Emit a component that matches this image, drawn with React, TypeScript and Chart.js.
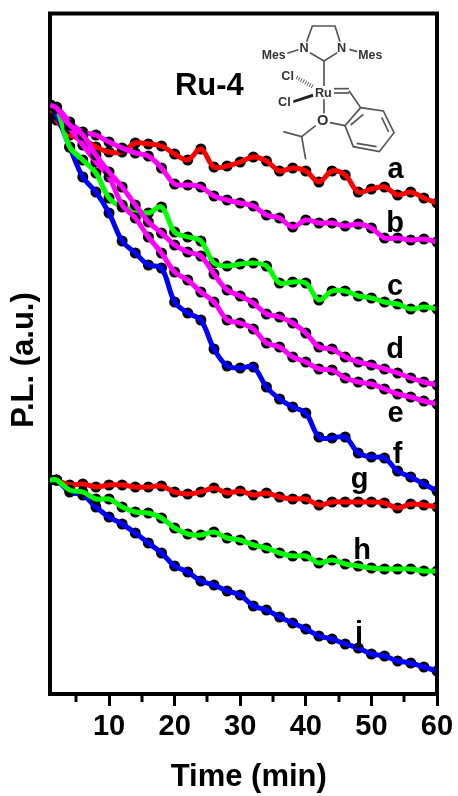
import React, { useEffect, useRef } from "react";
import { Chart, registerables } from "chart.js";

Chart.register(...registerables);

const FONT = '"Liberation Sans", Arial, sans-serif';

const time = [1, 2, 4, 6, 8, 10, 12, 14, 16, 18, 20, 22, 24, 26, 28, 30, 32, 34, 36, 38, 40, 42, 44, 46, 48, 50, 52, 54, 56, 58, 60];

const seriesA = [589, 574, 559, 555, 547, 542, 542, 551, 550, 548, 540, 534, 545, 527, 528, 532, 537, 533, 523, 526, 523, 512, 523, 519, 502, 505, 507, 499, 502, 496, 491];
const seriesB = [589, 587, 572, 562, 559, 552, 546, 541, 538, 526, 510, 509, 507, 498, 494, 491, 488, 479, 476, 467, 474, 471, 471, 468, 470, 466, 456, 456, 454, 455, 452];
const seriesC = [589, 586, 547, 534, 521, 496, 487, 484, 481, 487, 462, 457, 453, 431, 428, 430, 431, 428, 411, 412, 411, 394, 403, 403, 398, 396, 392, 390, 385, 387, 385];
const seriesD = [589, 586, 569, 559, 539, 522, 507, 489, 472, 461, 449, 442, 438, 420, 404, 398, 391, 380, 377, 371, 361, 347, 345, 337, 332, 329, 325, 321, 316, 312, 309];
const seriesE = [589, 586, 566, 549, 532, 517, 489, 476, 457, 441, 422, 414, 402, 392, 374, 371, 365, 351, 347, 337, 332, 325, 324, 316, 312, 310, 305, 300, 297, 293, 290];
const seriesF = [589, 579, 547, 517, 502, 481, 453, 441, 429, 426, 392, 381, 374, 345, 328, 326, 327, 307, 295, 287, 281, 257, 256, 257, 241, 237, 236, 223, 217, 210, 203];
const seriesG = [214, 214, 209, 210, 207, 209, 209, 207, 207, 208, 202, 200, 202, 206, 201, 203, 199, 201, 197, 195, 195, 189, 192, 192, 192, 192, 191, 186, 190, 189, 187];
const seriesH = [214, 214, 204, 202, 195, 195, 187, 182, 181, 176, 166, 160, 159, 162, 156, 154, 149, 146, 141, 138, 138, 131, 134, 130, 128, 126, 125, 125, 125, 123, 123];
const seriesJ = [214, 214, 202, 199, 187, 177, 170, 161, 151, 141, 128, 122, 113, 109, 103, 99, 88, 84, 77, 71, 65, 58, 55, 50, 46, 40, 38, 33, 31, 27, 23];

const RED = "#ff0000";
const GREEN = "#00ff00";
const BLUE = "#0000ff";
const MAGENTA = "#ff00ff";

// bottom-most first
const layers: [string, number[], string][] = [
  ["a", seriesA, RED],
  ["f", seriesF, BLUE],
  ["c", seriesC, GREEN],
  ["b", seriesB, MAGENTA],
  ["e", seriesE, MAGENTA],
  ["d", seriesD, MAGENTA],
  ["g", seriesG, RED],
  ["j", seriesJ, BLUE],
  ["h", seriesH, GREEN],
];

const xTicks = [5, 10, 15, 20, 25, 30, 35, 40, 45, 50, 55, 60];

const curveLabels: [string, number, number][] = [
  ["a", 53.7, 516],
  ["b", 53.6, 462],
  ["c", 53.6, 399],
  ["d", 53.6, 336],
  ["e", 53.7, 272],
  ["f", 54.0, 231],
  ["g", 48.2, 206],
  ["h", 48.6, 135],
  ["j", 48.1, 52],
];
const compoundLabel: [string, number, number] = ["Ru-4", 25.3, 599];
const xTitle: [string, number, number] = ["Time (min)", 31.3, -83];
const yTitle: [string, number, number] = ["P.L. (a.u.)", -2.9, 334];

const overlay = {
  id: "overlay",
  afterDatasetsDraw(chart: any) {
    const { ctx, chartArea: a, scales } = chart;
    const { x, y } = scales;
    ctx.save();
    ctx.strokeStyle = "#000";
    ctx.lineWidth = 4;
    ctx.lineCap = "square";
    ctx.beginPath();
    ctx.moveTo(a.left, a.top);
    ctx.lineTo(a.right, a.top);
    ctx.lineTo(a.right, a.bottom);
    ctx.stroke();
    ctx.lineWidth = 3;
    ctx.lineCap = "butt";
    xTicks.filter((t) => t % 10 !== 0).forEach((t) => {
      const px = Math.round(x.getPixelForValue(t));
      ctx.beginPath();
      ctx.moveTo(px, a.bottom);
      ctx.lineTo(px, a.bottom + 8);
      ctx.stroke();
    });
    ctx.fillStyle = "#000";
    ctx.textAlign = "center";
    ctx.textBaseline = "alphabetic";
    ctx.font = `bold 29px ${FONT}`;
    curveLabels.forEach(([s, t, v]) => ctx.fillText(s, x.getPixelForValue(t), y.getPixelForValue(v)));
    ctx.font = `bold 31px ${FONT}`;
    ctx.fillText(compoundLabel[0], x.getPixelForValue(compoundLabel[1]), y.getPixelForValue(compoundLabel[2]));
    ctx.textBaseline = "middle";
    ctx.fillText(xTitle[0], x.getPixelForValue(xTitle[1]), y.getPixelForValue(xTitle[2]));
    ctx.translate(x.getPixelForValue(yTitle[1]), y.getPixelForValue(yTitle[2]));
    ctx.rotate(-Math.PI / 2);
    ctx.fillText(yTitle[0], 0, 0);
    ctx.restore();
  },
};

function Molecule() {
  const stroke = "#555";
  const txt = { fill: "#333", fontFamily: FONT, fontWeight: 700, textAnchor: "middle" as const };
  const line = (pts: string, w = 5) => (
    <polyline points={pts} fill="none" stroke={stroke} strokeWidth={w} />
  );
  return (
    <svg
      viewBox="0 0 810 510"
      width={270}
      height={170}
      style={{ position: "absolute", left: 150, top: 0, pointerEvents: "none" }}
    >
      {line("470,125 487,78 555,78 570,125")}
      {line("480,158 522,183 562,158")}
      {line("412,160 445,149")}
      {line("598,148 622,155")}
      {line("522,183 522,258")}
      {line("552,266 597,266")}
      {line("552,279 597,279")}
      {line("597,272 632,323 700,333 732,398 688,455 610,440 585,377 632,323")}
      {line("640,343 602,375")}
      {line("695,352 716,396")}
      {line("620,430 680,440")}
      {line("522,298 522,340")}
      {line("540,368 585,377")}
      {line("497,377 455,410")}
      {line("400,395 455,410 467,478")}
      <line x1="440" y1="232" x2="492" y2="262" stroke={stroke} strokeWidth={12} strokeDasharray="2.5 5" />
      <polygon points="430,301 430,309 490,290 488,281" fill="#222" />
      <text x="371" y="176" fontSize="37" {...txt}>Mes</text>
      <text x="661" y="176" fontSize="37" {...txt}>Mes</text>
      <text x="462" y="156" fontSize="38" {...txt}>N</text>
      <text x="575" y="156" fontSize="38" {...txt}>N</text>
      <text x="413" y="240" fontSize="38" {...txt}>Cl</text>
      <text x="403" y="318" fontSize="38" {...txt}>Cl</text>
      <text x="520" y="292" fontSize="38" {...txt}>Ru</text>
      <text x="518" y="376" fontSize="44" {...txt}>O</text>
    </svg>
  );
}

export default function App() {
  const ref = useRef<HTMLCanvasElement>(null);
  useEffect(() => {
    const datasets: any[] = [];
    const n = layers.length;
    layers.forEach(([name, values, color], i) => {
      const points = values.map((v, k) => ({ x: time[k], y: v }));
      datasets.push({
        label: name + " points",
        data: points,
        showLine: false,
        pointRadius: 5.5,
        pointBackgroundColor: "#000",
        pointBorderWidth: 0,
        order: 2 * (n - i) + 1,
      });
      datasets.push({
        label: name,
        data: points,
        showLine: true,
        borderColor: color,
        borderWidth: 5,
        pointRadius: 0,
        tension: 0.35,
        order: 2 * (n - i),
      });
    });
    const chart = new Chart(ref.current!, {
      type: "scatter",
      data: { datasets },
      plugins: [overlay],
      options: {
        animation: false,
        responsive: false,
        devicePixelRatio: 1,
        layout: { padding: { top: 13.5, right: 21, left: 0, bottom: 0 } },
        plugins: { legend: { display: false }, tooltip: { enabled: false } },
        scales: {
          x: {
            type: "linear",
            min: 1,
            max: 60,
            afterBuildTicks: (s: any) => {
              s.ticks = xTicks.map((value) => ({ value }));
            },
            afterFit: (s: any) => {
              s.height = 102;
            },
            grid: {
              display: true,
              drawOnChartArea: false,
              drawTicks: true,
              tickLength: 12,
              tickWidth: 3,
              tickColor: (c: any) => (c.tick && c.tick.value % 10 === 0 ? "#000" : "rgba(0,0,0,0)"),
            },
            border: { display: true, color: "#000", width: 4 },
            ticks: {
              autoSkip: false,
              maxRotation: 0,
              padding: 4,
              color: "#000",
              font: { family: FONT, weight: "bold", size: 29 },
              callback: (v: any) => (Number(v) % 10 === 0 ? String(v) : ""),
            },
          },
          y: {
            type: "linear",
            min: 0,
            max: 680.5,
            afterFit: (s: any) => {
              s.width = 50;
            },
            grid: { display: false },
            border: { display: true, color: "#000", width: 4 },
            ticks: { display: false },
          },
        },
      },
    } as any);
    return () => chart.destroy();
  }, []);
  return (
    <div style={{ position: "absolute", left: 0, top: 0, width: 458, height: 796, background: "#fff" }}>
      <canvas ref={ref} width={458} height={796} style={{ display: "block" }} />
      <Molecule />
    </div>
  );
}
